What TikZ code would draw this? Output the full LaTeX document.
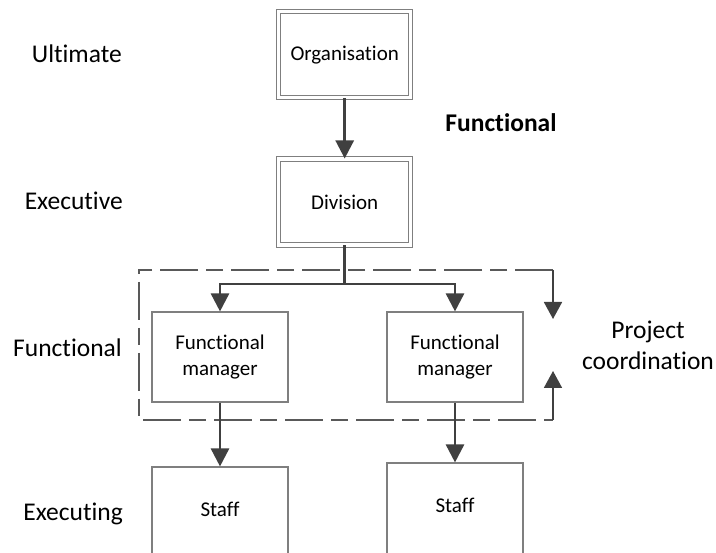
\documentclass[tikz,border=0pt]{standalone}
\usepackage{fontspec}
\setmainfont{Carlito}[Ligatures=NoCommon]
\usetikzlibrary{arrows.meta}
\definecolor{connc}{HTML}{404040}
\definecolor{boxc}{HTML}{7F7F7F}
\definecolor{dashc}{HTML}{595959}
\begin{document}
\begin{tikzpicture}[x=1pt,y=-1pt,
  lbl/.style={font=\fontsize{25.5}{31}\selectfont,text=black,inner sep=0pt,align=center},
  boxtxt/.style={font=\fontsize{21}{26}\selectfont},
  unitbox/.style={draw=boxc,line width=1.1pt,fill=white,minimum width=136pt,minimum height=90pt,inner sep=0pt,align=center,boxtxt},
  topbox/.style={draw=boxc,line width=1pt,double=white,double distance=3.2pt,minimum width=132pt,minimum height=86pt,inner sep=0pt,boxtxt},
  conn/.style={draw=connc,line width=2.6pt},
  connarrow/.style={conn,-{Triangle[length=18pt,width=18pt]}},
  coordarrow/.style={draw=connc,line width=1.8pt,-{Triangle[length=17pt,width=18pt]}},
  coordline/.style={draw=dashc,line width=2pt,dash pattern=on 38pt off 8pt on 17pt off 8pt}]
\clip (0,0) rectangle (716,553);
\fill[white] (0,0) rectangle (716,553);

% levels
\node[lbl,anchor=base east] (lvU) at (122,63) {Ultimate};
\node[lbl,anchor=base east] (lvE) at (123,210) {Executive};
\node[lbl,anchor=base east] (lvF) at (122,357) {Functional};
\node[lbl,anchor=base east] (lvX) at (123,521) {Executing};

% hierarchy boxes
\node[topbox] (org) at (344.7,54.7) {Organisation};
\node[topbox] (div) at (344.7,202) {Division};
\node[unitbox] (fm1) at (220,357) {Functional\\manager};
\node[unitbox] (fm2) at (455,357) {Functional\\manager};
\node[unitbox,minimum height=200pt] (st1) at (220,567) {};
\node[unitbox,minimum height=200pt] (st2) at (455,563) {};
\node[boxtxt,anchor=base] (st1t) at (220,517) {Staff};
\node[boxtxt,anchor=base] (st2t) at (455,513) {Staff};

% side labels
\node[lbl,font=\fontsize{25.5}{31}\selectfont\bfseries,anchor=base] (fnl) at (501,132) {Functional};
\node[lbl] (pc) at (648,345) {Project\\coordination};

% project coordination frame
\coordinate (cTR) at (553,270);
\coordinate (cTL) at (139,270);
\coordinate (cBL) at (139,420);
\coordinate (cBR) at (553,420);
\coordinate (cTA) at (553,319);
\coordinate (cBA) at (553,371);
\draw[coordline] (cTR) -- (cTL) -- (cBL) -- (cBR);
\draw[coordarrow] (cTR) -- (cTA);
\draw[coordarrow] (cBR) -- (cBA);

% connectors
\coordinate (j) at (344.7,284);
\draw[connarrow] (org.south) -- (div.north);
\draw[conn] (div.south) -- (j);
\draw[connarrow] (j) -| (fm1.north);
\draw[connarrow] (j) -| (fm2.north);
\draw[connarrow] (fm1.south) -- (st1.north);
\draw[connarrow] (fm2.south) -- (st2.north);
\end{tikzpicture}
\end{document}
